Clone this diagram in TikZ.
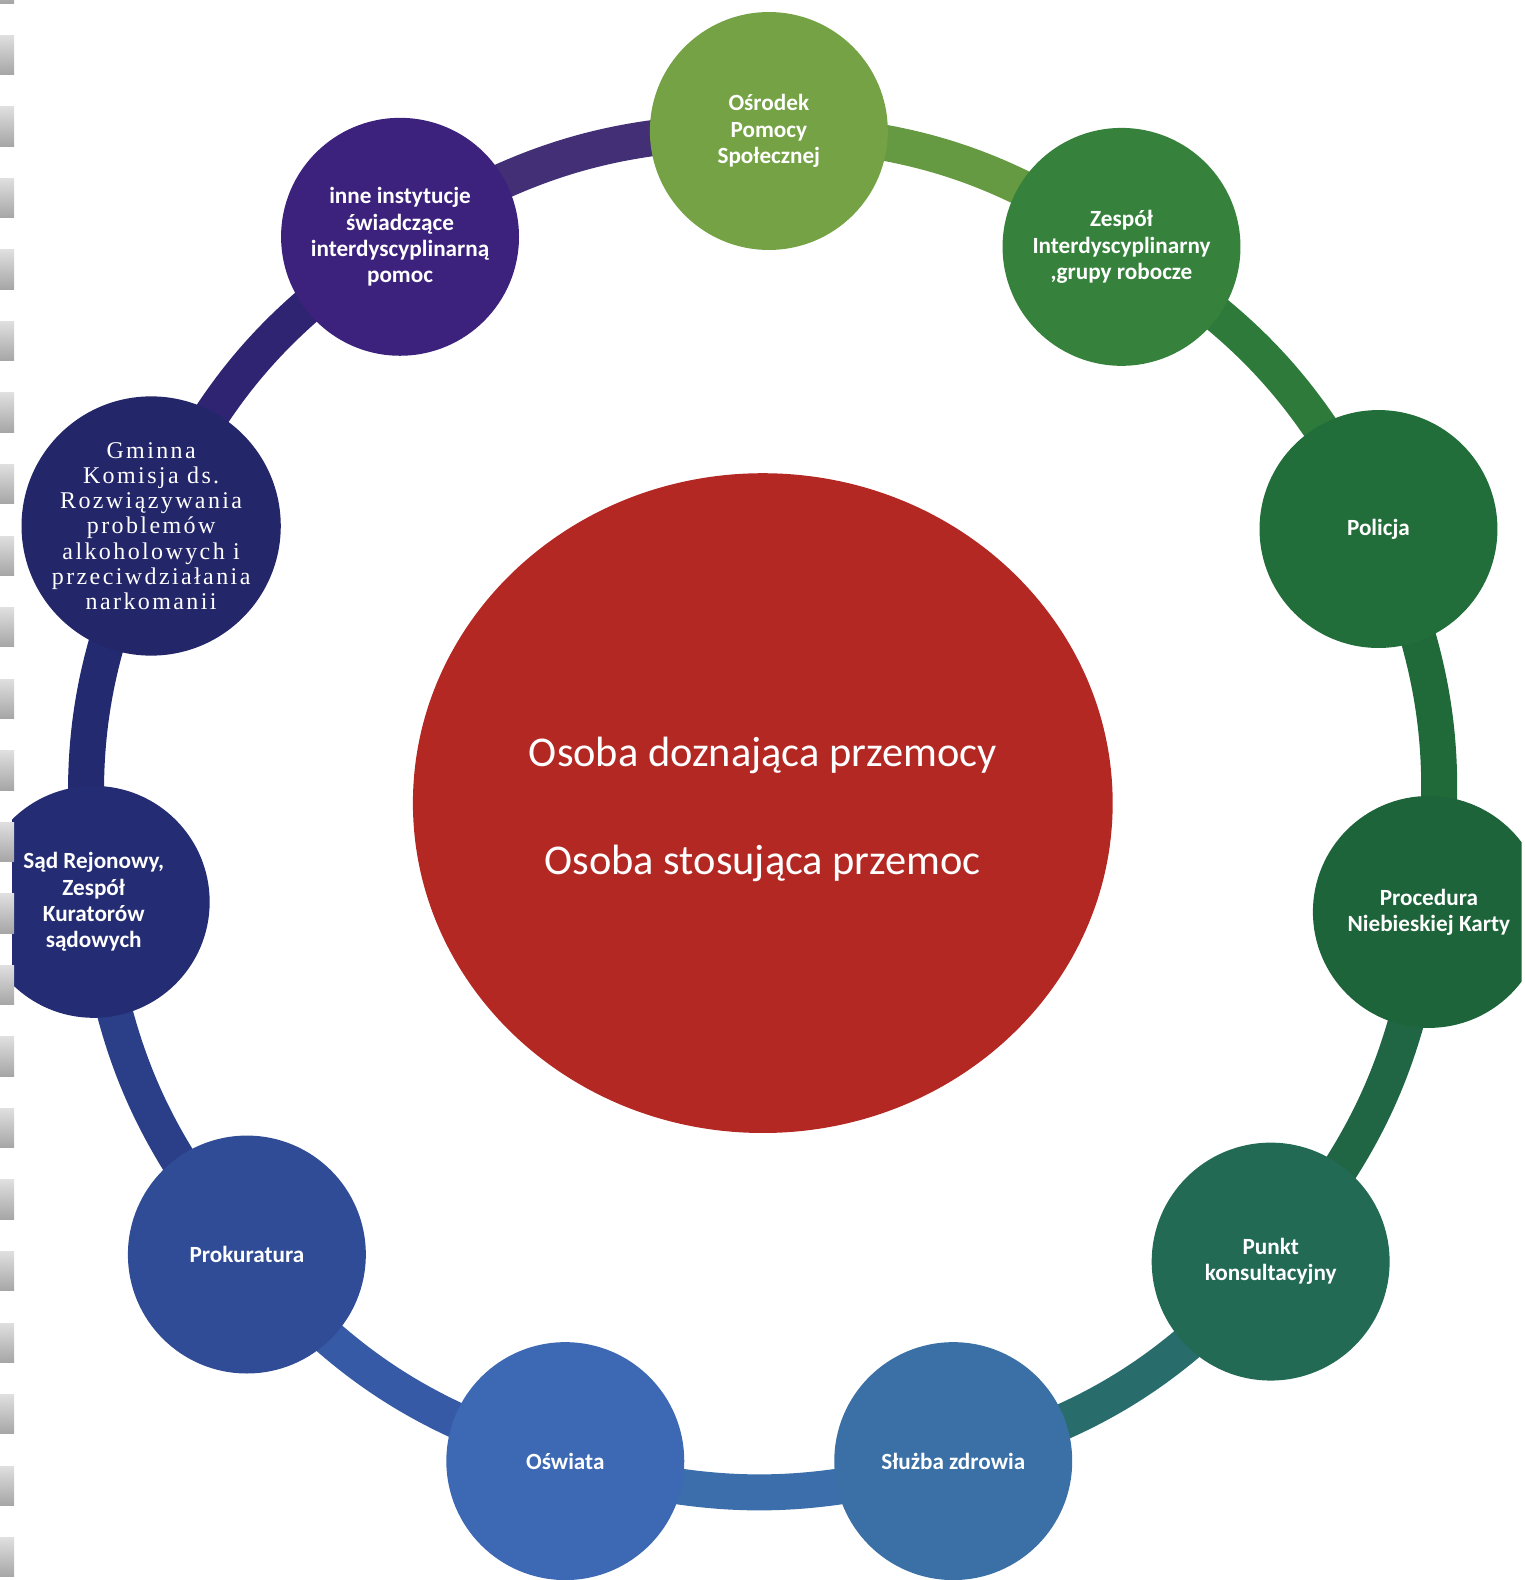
\documentclass[tikz,border=0pt]{standalone}
\usepackage{fontspec}
\setmainfont{Carlito}
\newfontfamily\gminnafont[LetterSpace=10]{Liberation Serif}
\usetikzlibrary{shapes.geometric,backgrounds}
\definecolor{cOsoba}{RGB}{180,40,36}
\definecolor{cOsrodek}{RGB}{116,162,68}
\definecolor{cZespol}{RGB}{54,130,60}
\definecolor{cPolicja}{RGB}{34,110,58}
\definecolor{cProcedura}{RGB}{30,100,58}
\definecolor{cPunkt}{RGB}{34,106,84}
\definecolor{cSluzba}{RGB}{58,112,165}
\definecolor{cOswiata}{RGB}{60,104,180}
\definecolor{cProkuratura}{RGB}{48,76,150}
\definecolor{cSad}{RGB}{36,44,116}
\definecolor{cGminna}{RGB}{36,38,106}
\definecolor{cInne}{RGB}{60,34,124}
\begin{document}
\begin{tikzpicture}[x=1.008pt,y=-1.008pt,
	org/.style={circle,minimum size=238pt,inner sep=0pt,text=white,align=center,
		font=\fontsize{23.2}{26.2}\selectfont\bfseries},
	ring/.style={line width=36pt}]
	\useasboundingbox (0,0) rectangle (1513,1568);
	\begin{scope}
		\clip (12,0) rectangle (1510,1568);
		\node[ellipse,minimum width=700pt,minimum height=660pt,fill=cOsoba] (osoba) at (757,797) {};
		\node[text=white,align=center,font=\fontsize{42.4}{54}\selectfont] (osobaTekst) at ([yshift=-6pt]osoba.center)
			{Osoba doznająca przemocy\\[54pt]Osoba stosująca przemoc};
		\node[org,fill=cOsrodek] (osrodek) at (763,130) {Ośrodek\\Pomocy\\Społecznej};
		\node[org,fill=cZespol] (zespol) at (1113,245) {Zespół\\Interdyscyplinarny\\,grupy robocze};
		\node[org,fill=cPolicja] (policja) at (1368,525) {Policja};
		\node[org,fill=cProcedura,minimum size=232pt] (procedura) at (1418,905) {Procedura\\Niebieskiej Karty};
		\node[org,fill=cPunkt] (punkt) at (1261,1252) {Punkt\\konsultacyjny};
		\node[org,fill=cSluzba] (sluzba) at (946,1450) {Służba zdrowia};
		\node[org,fill=cOswiata] (oswiata) at (561,1450) {Oświata};
		\node[org,fill=cProkuratura] (prokuratura) at (245,1245) {Prokuratura};
		\node[org,fill=cSad,minimum size=232pt] (sad) at (93,895) {Sąd Rejonowy,\\Zespół\\Kuratorów\\sądowych};
		\node[org,fill=cGminna,font=\gminnafont\fontsize{24}{25.2}\selectfont] (gminna) at (150,522)
			{Gminna\\Komisja ds.\\Rozwiązywania\\problemów\\alkoholowych i\\przeciwdziałania\\narkomanii};
		\node[org,fill=cInne] (inne) at (397,235) {inne instytucje\\świadczące\\interdyscyplinarną\\pomoc};
		\begin{scope}[on background layer]
			\foreach \a/\b/\c in {osrodek/zespol/cOsrodek!75!cZespol,zespol/policja/cZespol!60!cPolicja,
				policja/procedura/cPolicja!60!cProcedura,procedura/punkt/cProcedura!60!cPunkt,
				punkt/sluzba/cPunkt!70!cSluzba,sluzba/oswiata/cSluzba!70!cOswiata,
				oswiata/prokuratura/cOswiata!50!cProkuratura,prokuratura/sad/cProkuratura!60!cSad,
				sad/gminna/cSad!60!cGminna,gminna/inne/cGminna!60!cInne,inne/osrodek/cInne!90!cOsrodek}
				\draw[ring,draw=\c] (\a.center) to[bend left=16] (\b.center);
		\end{scope}
	\end{scope}
	\foreach \y in {-36,35,...,1560}
		\shade[top color=gray!25,bottom color=gray!70] (0,\y) rectangle (14,\y+39);
\end{tikzpicture}
\end{document}
